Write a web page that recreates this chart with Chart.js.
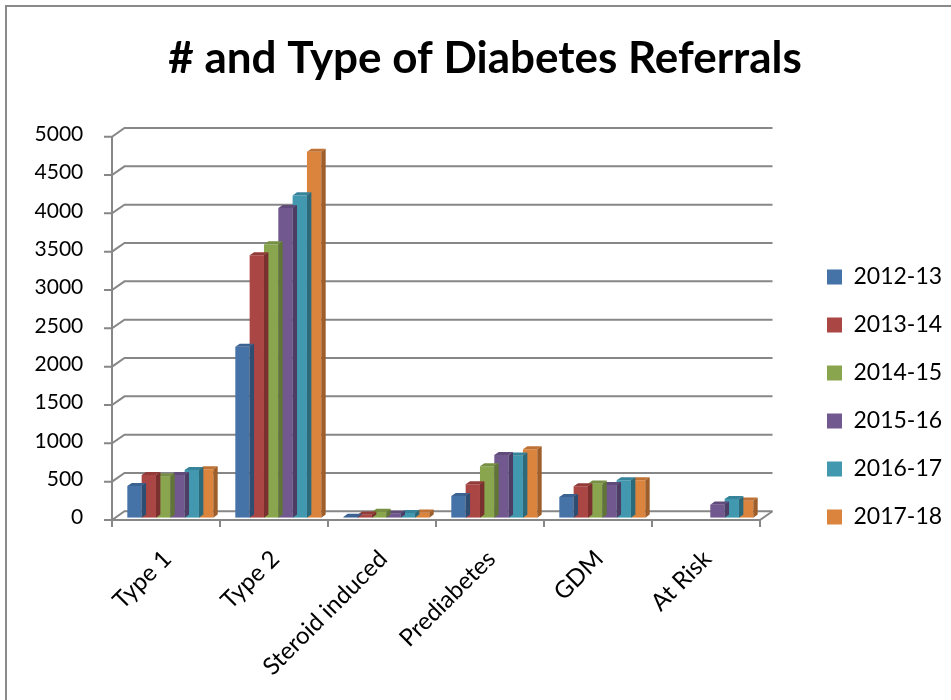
<!DOCTYPE html>
<html>
<head>
<meta charset="utf-8">
<script src="https://cdn.jsdelivr.net/npm/chart.js@4.4.1/dist/chart.umd.min.js"></script>
<style>
  html, body { margin: 0; padding: 0; background: #ffffff; }
  #frame { position: absolute; left: 5px; top: 5px; width: 970px; height: 720px;
           border-left: 2px solid #8a8a8a; border-top: 2px solid #8a8a8a; }
  #wrap { position: absolute; left: 0; top: 0; width: 951px; height: 700px; }
</style>
</head>
<body>
<div id="frame"></div>
<div id="wrap"><canvas id="chart" width="951" height="700"></canvas></div>
<script>
// ---- data ----
const categories = ['Type 1', 'Type 2', 'Steroid induced', 'Prediabetes', 'GDM', 'At Risk'];
const seriesNames = ['2012-13', '2013-14', '2014-15', '2015-16', '2016-17', '2017-18'];
const values2012 = [413, 2230, 10, 283, 270, null];
const values2013 = [557, 3422, 40, 435, 409, null];
const values2014 = [535, 3565, 75, 670, 444, null];
const values2015 = [557, 4039, 50, 817, 426, 170];
const values2016 = [622, 4204, 60, 809, 487, 244];
const values2017 = [631, 4773, 65, 892, 487, 222];
const yTickValues = [0, 500, 1000, 1500, 2000, 2500, 3000, 3500, 4000, 4500, 5000];

// ---- styles ----
const frontColors = ['#4572A7', '#AA4643', '#89A54E', '#71588F', '#4198AF', '#DB843D'];
const topColors   = ['#3B6291', '#923B39', '#768F42', '#604B7B', '#37849A', '#C07234'];
const sideColors  = ['#2E4D73', '#7A302E', '#607536', '#4D3C63', '#2C6A7B', '#9E5D29'];
const allValues = [values2012, values2013, values2014, values2015, values2016, values2017];

const TARGET_RIGHT = 764.3;
const FX = -4.3, FY = 2.3;     // front plane relative to bar plane
const DX = 12.5, DY = -8.7;    // wall depth
const BX = 4.4, BY = -3.1;     // bar depth
const gridColor = '#878787';

const frame3d = {
  id: 'frame3d',
  afterLayout(chart) {
    const lg = chart.legend;
    if (lg) {
      const w = Math.max(lg.width, 160);
      lg.width = w;
      lg.left = 827 - 25; lg.right = lg.left + w;
      lg.top = 265.5 - 25; lg.bottom = 265.5 + 288; lg.height = lg.bottom - lg.top;
    }
    const tb = chart.titleBlock;
    if (tb) {
      tb.left = 19; tb.right = 951; tb.width = tb.right - tb.left;
    }
  },
  beforeDatasetsDraw(chart) {
    const { ctx, chartArea: a, scales: { x, y } } = chart;
    const fl = a.left + FX, fr = a.right + FX;
    ctx.save();
    ctx.strokeStyle = gridColor;
    ctx.lineWidth = 2;
    yTickValues.forEach(v => {
      const yf = y.getPixelForValue(v) + FY, yb = yf + DY;
      ctx.beginPath();
      ctx.moveTo(fl - 8, yf);
      ctx.lineTo(fl, yf);
      ctx.lineTo(fl + DX, yb);
      ctx.lineTo(fr + DX, yb);
      ctx.stroke();
    });
    const y0 = y.getPixelForValue(0) + FY;
    const yTop = y.getPixelForValue(5000) + FY;
    ctx.beginPath();
    ctx.moveTo(fl, yTop); ctx.lineTo(fl, y0 + 7);
    ctx.stroke();
    ctx.beginPath();
    ctx.moveTo(fl, y0); ctx.lineTo(fr, y0); ctx.lineTo(fr + DX, y0 + DY);
    ctx.stroke();
    const n = categories.length;
    for (let i = 1; i <= n; i++) {
      const xx = fl + i * (fr - fl) / n;
      ctx.beginPath();
      ctx.moveTo(xx, y0); ctx.lineTo(xx, y0 + 7);
      ctx.stroke();
    }
    ctx.restore();
  },
  afterDatasetDraw(chart, args) {
    const { ctx } = chart;
    const i = args.index;
    const vals = allValues[i];
    ctx.save();
    args.meta.data.forEach((bar, j) => {
      if (vals[j] == null) return;
      const p = bar.getProps(['x', 'y', 'base', 'width'], true);
      const l = p.x - p.width / 2, r = p.x + p.width / 2;
      ctx.fillStyle = topColors[i];
      ctx.beginPath();
      ctx.moveTo(l, p.y); ctx.lineTo(l + BX, p.y + BY); ctx.lineTo(r + BX, p.y + BY); ctx.lineTo(r, p.y);
      ctx.closePath(); ctx.fill();
      ctx.fillStyle = sideColors[i];
      ctx.beginPath();
      ctx.moveTo(r, p.y); ctx.lineTo(r + BX, p.y + BY); ctx.lineTo(r + BX, p.base + BY); ctx.lineTo(r, p.base);
      ctx.closePath(); ctx.fill();
    });
    ctx.restore();
  }
};

const chart = new Chart(document.getElementById('chart'), {
  type: 'bar',
  data: {
    labels: categories,
    datasets: seriesNames.map((name, i) => ({
      label: name,
      data: allValues[i],
      backgroundColor: frontColors[i],
      borderWidth: 0,
      barPercentage: 1.0,
      categoryPercentage: 0.796
    }))
  },
  options: {
    responsive: false,
    animation: false,
    devicePixelRatio: 1,
    layout: { padding: { left: 0, right: 0, top: 0, bottom: 0 } },
    plugins: {
      title: {
        display: true,
        text: '# and Type of Diabetes Referrals',
        color: '#000000',
        font: { family: 'Lato', weight: 'bold', size: 44 },
        padding: { top: 32.6, bottom: 49 }
      },
      legend: {
        position: 'right',
        labels: {
          color: '#000000',
          font: { family: 'Lato', size: 23 },
          boxWidth: 15,
          boxHeight: 15,
          padding: 25
        }
      },
      tooltip: { enabled: false }
    },
    scales: {
      x: {
        grid: { display: false, drawTicks: false },
        border: { display: false },
        ticks: {
          color: '#000000',
          font: { family: 'Lato', size: 24 },
          minRotation: 45,
          maxRotation: 45,
          autoSkip: false,
          padding: 27,
          labelOffset: -3
        },
        afterFit(s) { s.height = 182.3; }
      },
      y: {
        min: 0,
        max: 5000,
        grid: { display: false, drawTicks: false },
        border: { display: false },
        ticks: {
          stepSize: 500,
          color: '#000000',
          font: { family: 'Lato', size: 21 },
          padding: 33,
          callback: (v) => String(v)
        },
        afterFit(s) { s.width = 116.3; }
      }
    }
  },
  plugins: [frame3d]
});
// fit plot right edge to the reference position
const delta = chart.chartArea.right - TARGET_RIGHT;
chart.options.layout.padding.right = Math.max(0, delta);
chart.update();
</script>
</body>
</html>
